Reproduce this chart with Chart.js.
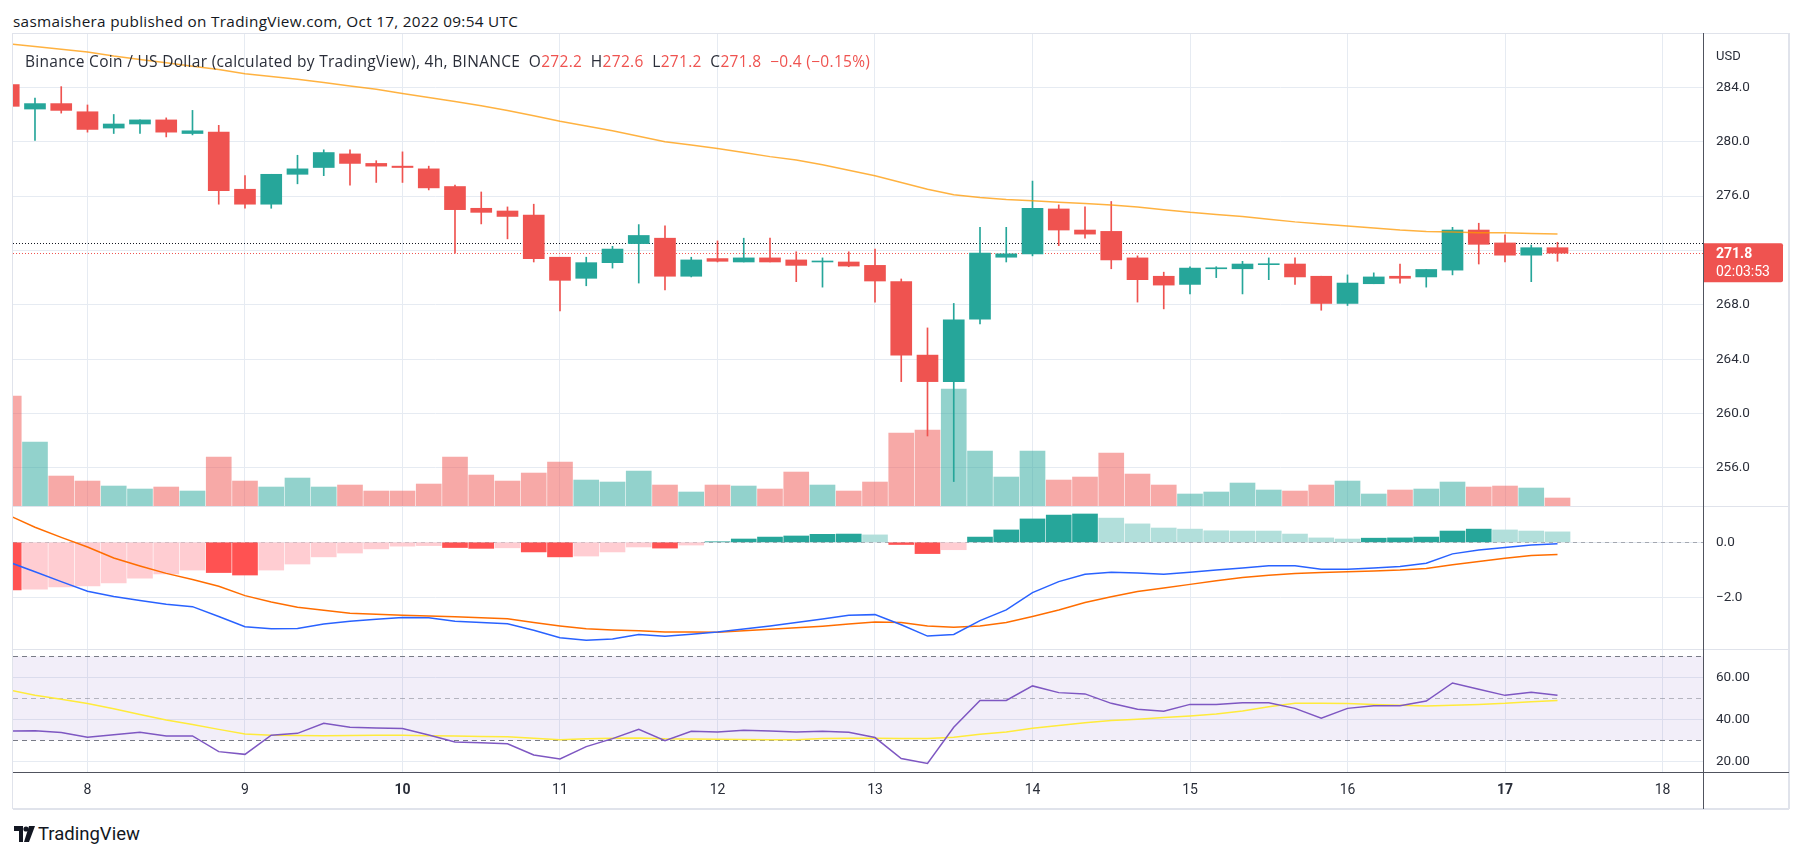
<!DOCTYPE html>
<html>
<head>
<meta charset="utf-8">
<script src="https://cdn.jsdelivr.net/npm/chart.js@4.4.0/dist/chart.umd.min.js"></script>
<style>
  body { margin: 0; background: #fff; }
  #wrap { position: relative; width: 1802px; height: 857px; overflow: hidden; font-family: "Open Sans", Roboto, sans-serif; color: #131722; }
  canvas { position: absolute; }
  .line { position: absolute; z-index: 5; }
  .txt { position: absolute; white-space: pre; z-index: 6; line-height: 20px; }
  .red { color: #ef5350; }
</style>
</head>
<body>
<div id="wrap">
  <div class="txt" style="left:13px;top:11px;font-size:15.3px;letter-spacing:0.3px;">sasmaishera published on TradingView.com, Oct 17, 2022 09:54 UTC</div>

  <canvas id="price" width="1775" height="472" style="left:13px;top:34px"></canvas>
  <canvas id="macd" width="1775" height="142" style="left:13px;top:507px"></canvas>
  <canvas id="rsi" width="1775" height="158" style="left:13px;top:650px"></canvas>

  <div class="txt" style="left:25px;top:51px;font-size:15.5px;letter-spacing:0.3px;color:#2a2e39;">Binance Coin / US Dollar (calculated by TradingView), 4h, BINANCE  O<span class="red">272.2</span>  H<span class="red">272.6</span>  L<span class="red">271.2</span>  C<span class="red">271.8</span>  <span class="red">−0.4 (−0.15%)</span></div>
  <div class="txt" style="left:1716px;top:46px;font-size:13px;color:#2a2e39;font-family:Roboto,sans-serif;">USD</div>

  <!-- frame -->
  <div class="line" style="left:13px;top:33px;width:1776px;height:1px;background:#e0e3eb"></div>
  <div class="line" style="left:13px;top:808px;width:1776px;height:2px;background:#e0e3eb"></div>
  <div class="line" style="left:12px;top:33px;width:1px;height:776px;background:#e0e3eb"></div>
  <div class="line" style="left:1788px;top:33px;width:2px;height:776px;background:#e0e3eb"></div>
  <div class="line" style="left:13px;top:506px;width:1776px;height:1px;background:#e0e3eb"></div>
  <div class="line" style="left:13px;top:649px;width:1776px;height:1px;background:#e0e3eb"></div>
  <div class="line" style="left:1703px;top:33px;width:1px;height:776px;background:#50535e"></div>
  <div class="line" style="left:13px;top:772px;width:1776px;height:1px;background:#50535e"></div>

  <div class="txt" style="left:14px;top:823px;line-height:22px;"><svg width="22" height="16" viewBox="0 0 22 16" style="vertical-align:-2px"><path d="M0 0h9v16h-4v-11h-5z" fill="#131722"/><circle cx="12" cy="3" r="2.6" fill="#131722"/><path d="M15 0h6l-6 16h-5z" fill="#131722"/></svg><span style="font-size:18.5px;margin-left:2px;font-family:Roboto,sans-serif;">TradingView</span></div>
</div>

<script>
// 4h candles, first one Oct 7 12:00 UTC (hours counted from Oct 7 00:00)
const firstHour = 12;
const opens  = [284.2, 282.4, 282.8, 282.2, 281.0, 281.3, 281.6, 280.6, 280.7, 276.5,
                275.4, 277.6, 278.1, 279.1, 278.4, 278.2, 278.0, 276.7, 275.1, 274.9,
                274.6, 271.5, 269.95, 271.1, 272.5, 272.9, 270.1, 271.4, 271.15, 271.45,
                271.3, 271.15, 271.15, 270.9, 269.7, 264.3, 262.35, 266.95, 271.5, 271.75,
                275.05, 273.5, 273.4, 271.45, 270.1, 269.5, 270.65, 270.65, 270.95, 271.0,
                270.1, 268.1, 269.55, 270.1, 270.05, 270.55, 273.5, 272.55, 271.65, 272.2];
const highs  = [284.6, 283.2, 284.05, 282.7, 282.0, 281.6, 281.75, 282.3, 281.2, 277.5,
                277.6, 279.0, 279.4, 279.4, 278.6, 279.25, 278.2, 276.8, 276.3, 275.2,
                275.4, 271.5, 271.5, 272.3, 273.9, 273.8, 271.5, 272.7, 272.9, 272.9,
                271.9, 271.45, 271.9, 272.1, 269.9, 266.3, 268.1, 273.7, 273.7, 277.1,
                275.35, 275.2, 275.6, 271.6, 270.4, 270.8, 270.8, 271.2, 271.45, 271.45,
                270.1, 270.2, 270.35, 271.0, 270.6, 273.7, 274.0, 273.15, 272.4, 272.6];
const lows   = [282.4, 280.1, 282.1, 280.7, 280.6, 280.6, 280.35, 280.5, 275.4, 275.1,
                275.1, 276.9, 277.5, 276.8, 277.0, 277.0, 276.45, 271.8, 273.95, 272.85,
                271.15, 267.55, 269.4, 270.7, 269.6, 269.1, 270.05, 271.15, 271.15, 271.15,
                269.7, 269.3, 270.8, 268.2, 262.35, 258.35, 255.0, 266.6, 271.15, 271.6,
                272.35, 272.9, 270.65, 268.2, 267.7, 268.8, 270.0, 268.8, 269.85, 269.5,
                267.6, 267.95, 269.55, 269.6, 269.3, 270.2, 271.0, 271.15, 269.7, 271.2];
const closes = [282.6, 282.8, 282.3, 280.9, 281.3, 281.6, 280.7, 280.8, 276.4, 275.4,
                277.6, 278.0, 279.2, 278.4, 278.2, 278.1, 276.6, 275.0, 274.8, 274.5,
                271.4, 269.8, 271.1, 272.1, 273.1, 270.1, 271.3, 271.2, 271.45, 271.15,
                270.9, 271.2, 270.85, 269.75, 264.3, 262.35, 266.9, 271.8, 271.75, 275.1,
                273.5, 273.2, 271.3, 269.85, 269.45, 270.7, 270.7, 271.0, 271.0, 270.05,
                268.1, 269.6, 270.05, 269.95, 270.6, 273.5, 272.45, 271.65, 272.2, 271.8];
// volume, K BNB
const volumes = [110, 64, 30, 25, 20, 17, 19, 15, 49, 25,
                 19, 28, 19, 21, 15, 15, 22, 49, 31, 25,
                 33, 44, 26, 24, 35, 21, 14, 21, 20, 17,
                 34, 21, 15, 24, 73, 76, 117, 55, 29, 55,
                 26, 29, 53, 32, 21, 12, 14, 23, 16, 15,
                 21, 25, 12, 16, 17, 24, 19, 20, 18, 8];
const priceMA = [287.2, 287.0, 286.8, 286.6, 286.3, 286.05, 285.8, 285.55, 285.3, 285.0,
                 284.8, 284.6, 284.35, 284.1, 283.85, 283.55, 283.25, 282.95, 282.65, 282.3,
                 281.9, 281.5, 281.15, 280.8, 280.4, 280.0, 279.75, 279.5, 279.2, 278.9,
                 278.65, 278.3, 277.9, 277.5, 277.0, 276.5, 276.1, 275.9, 275.75, 275.65,
                 275.55, 275.45, 275.35, 275.2, 275.0, 274.8, 274.65, 274.5, 274.3, 274.1,
                 273.95, 273.8, 273.65, 273.5, 273.4, 273.35, 273.3, 273.3, 273.25, 273.2];
const macdLine = [-0.72, -1.07, -1.43, -1.78, -1.97, -2.12, -2.25, -2.34, -2.70, -3.07,
                  -3.14, -3.13, -2.97, -2.87, -2.80, -2.73, -2.74, -2.87, -2.92, -2.96,
                  -3.20, -3.47, -3.56, -3.52, -3.35, -3.42, -3.34, -3.26, -3.15, -3.04,
                  -2.92, -2.79, -2.65, -2.63, -3.00, -3.41, -3.35, -2.85, -2.46, -1.83,
                  -1.43, -1.16, -1.09, -1.12, -1.16, -1.09, -1.01, -0.93, -0.85, -0.85,
                  -0.98, -0.98, -0.93, -0.88, -0.76, -0.42, -0.28, -0.19, -0.10, -0.05];
const signalLine = [0.98, 0.55, 0.18, -0.17, -0.57, -0.86, -1.13, -1.35, -1.60, -1.94,
                    -2.17, -2.36, -2.47, -2.58, -2.62, -2.65, -2.68, -2.71, -2.74, -2.78,
                    -2.92, -3.04, -3.14, -3.19, -3.22, -3.26, -3.26, -3.27, -3.22, -3.16,
                    -3.11, -3.05, -2.97, -2.90, -2.92, -3.04, -3.09, -3.04, -2.92, -2.70,
                    -2.46, -2.19, -1.98, -1.79, -1.66, -1.53, -1.40, -1.28, -1.20, -1.13,
                    -1.10, -1.07, -1.04, -1.01, -0.95, -0.82, -0.70, -0.58, -0.48, -0.44];
const macdHist = [-1.73, -1.70, -1.62, -1.59, -1.48, -1.30, -1.15, -1.01, -1.10, -1.19,
                  -1.01, -0.79, -0.53, -0.39, -0.24, -0.14, -0.12, -0.19, -0.22, -0.20,
                  -0.35, -0.53, -0.50, -0.35, -0.17, -0.21, -0.10, 0.02, 0.12, 0.19,
                  0.23, 0.29, 0.30, 0.27, -0.08, -0.41, -0.27, 0.19, 0.45, 0.85,
                  0.99, 1.03, 0.88, 0.67, 0.52, 0.48, 0.42, 0.41, 0.41, 0.30,
                  0.16, 0.12, 0.15, 0.16, 0.19, 0.41, 0.48, 0.45, 0.41, 0.38];
const rsi = [34.4, 34.6, 33.7, 31.4, 32.6, 33.8, 32.1, 32.1, 24.6, 23.3,
             32.4, 33.3, 38.1, 36.2, 35.9, 35.6, 32.5, 29.2, 28.8, 28.3,
             23.0, 21.1, 27.0, 30.8, 35.2, 29.8, 34.3, 34.0, 34.8, 34.4,
             34.0, 34.3, 33.8, 31.3, 21.3, 19.0, 36.2, 49.0, 49.0, 55.9,
             52.7, 52.1, 47.6, 44.8, 43.8, 47.1, 47.1, 47.9, 47.9, 45.2,
             40.5, 45.2, 46.5, 46.5, 48.7, 57.3, 54.3, 51.4, 52.9, 51.4];
const rsiMA = [54.0, 51.5, 49.5, 47.5, 45.0, 42.3, 39.7, 37.5, 35.2, 33.0,
               32.4, 32.3, 32.2, 32.3, 32.4, 32.4, 32.2, 32.0, 31.8, 31.7,
               31.0, 30.2, 30.7, 31.0, 31.1, 30.7, 30.6, 30.5, 30.4, 30.3,
               30.2, 30.8, 31.0, 31.0, 30.9, 30.8, 31.4, 32.9, 34.0, 35.7,
               37.0, 38.4, 39.4, 40.0, 40.8, 41.6, 42.5, 44.0, 46.0, 47.6,
               47.6, 47.5, 47.1, 46.7, 46.3, 46.7, 47.1, 47.6, 48.4, 48.9];

const dayLabels = ['8', '9', '10', '11', '12', '13', '14', '15', '16', '17', '18'];
const boldDays = ['10', '17'];
const priceTicks = [256, 260, 264, 268, 272, 276, 280, 284];
const macdTicks = [0, -2];
const rsiTicks = [20, 40, 60];
const rsiLevels = [70, 50, 30];
const prevClose = 272.55;
const lastPrice = 271.8;
const countdown = '02:03:53';

const UP = '#26a69a', DOWN = '#ef5350';
const gridColor = '#e6ebf2';
const fontFamily = 'Roboto, "Liberation Sans", sans-serif';
const textColor = '#2a2e39';

// visible window, hours from Oct 7 00:00
const xMin = 12.65, xMax = 270.17;

const hours = opens.map((_, i) => firstHour + i * 4);
const dayHours = dayLabels.map(d => (Number(d) - 7) * 24);
const isUp = opens.map((o, i) => closes[i] >= o);

function xAxis(showLabels) {
  return {
    type: 'linear', min: xMin, max: xMax, offset: false,
    grid: { color: gridColor, drawTicks: false, offset: false },
    border: { display: false },
    afterBuildTicks: s => { s.ticks = dayHours.map(v => ({ value: v })); },
    afterFit: s => {
      s.height = showLabels ? 36 : 0;
      s.paddingLeft = 0; s.paddingRight = 0;
    },
    ticks: {
      display: showLabels, padding: 10, maxRotation: 0, autoSkip: false, color: textColor,
      font: c => ({ family: fontFamily, size: 14, weight: boldDays.includes(dayLabels[c.index]) ? 'bold' : 'normal' }),
      callback: (v, i) => dayLabels[i]
    }
  };
}

function yAxis(min, max, ticks, fmt) {
  return {
    position: 'right', min: min, max: max,
    grid: { color: gridColor, drawTicks: false },
    border: { display: false },
    afterBuildTicks: s => { s.ticks = ticks.map(v => ({ value: v })); },
    afterFit: s => {
      s.width = 85;
      s.paddingTop = 0; s.paddingBottom = 0;
    },
    ticks: { padding: 13, color: textColor, font: { family: fontFamily, size: 13.5 }, callback: fmt }
  };
}

const common = {
  responsive: false, animation: false, devicePixelRatio: 1, events: [],
  layout: { padding: 0 },
  plugins: { legend: { display: false }, tooltip: { enabled: false } }
};

// dotted price lines and the last-price tag on the axis
const priceMarks = {
  id: 'priceMarks',
  beforeDatasetsDraw(chart) {
    const { ctx, chartArea: a, scales: { y } } = chart;
    ctx.save();
    ctx.lineWidth = 1;
    ctx.setLineDash([1, 2]);
    [[prevClose, '#131722'], [lastPrice, DOWN]].forEach(([v, c]) => {
      const py = Math.round(y.getPixelForValue(v)) + 0.5;
      ctx.strokeStyle = c;
      ctx.beginPath(); ctx.moveTo(a.left, py); ctx.lineTo(a.right, py); ctx.stroke();
    });
    ctx.restore();
  },
  afterDraw(chart) {
    const { ctx, chartArea: a, scales: { y } } = chart;
    const py = y.getPixelForValue(lastPrice);
    ctx.save();
    ctx.fillStyle = DOWN;
    ctx.beginPath();
    ctx.roundRect(a.right, py - 10, 80, 39, [0, 2, 2, 0]);
    ctx.fill();
    ctx.fillStyle = '#fff';
    ctx.textBaseline = 'middle';
    ctx.font = 'bold 14px ' + fontFamily;
    ctx.fillText(lastPrice.toFixed(1), a.right + 13, py + 1);
    ctx.font = '14px ' + fontFamily;
    ctx.fillText(countdown, a.right + 13, py + 19.5);
    ctx.restore();
  }
};

new Chart(document.getElementById('price'), {
  data: {
    datasets: [
      {
        type: 'line', data: hours.map((h, i) => ({ x: h, y: priceMA[i] })),
        borderColor: 'rgba(255,152,0,0.75)', borderWidth: 1.5, pointRadius: 0, order: 0
      },
      {
        type: 'bar', data: hours.map((h, i) => ({ x: h, y: [opens[i], closes[i]] })),
        backgroundColor: isUp.map(u => u ? UP : DOWN), barThickness: 21, minBarLength: 1,
        grouped: false, order: 1
      },
      {
        type: 'bar', data: hours.map((h, i) => ({ x: h, y: [lows[i], highs[i]] })),
        backgroundColor: isUp.map(u => u ? UP : DOWN), barThickness: 1,
        grouped: false, order: 2
      },
      {
        type: 'bar', yAxisID: 'vol', data: hours.map((h, i) => ({ x: h, y: volumes[i] })),
        backgroundColor: isUp.map(u => u ? 'rgba(38,166,154,0.5)' : 'rgba(239,83,80,0.5)'),
        barThickness: 25, grouped: false, order: 10
      }
    ]
  },
  options: Object.assign({}, common, {
    scales: {
      x: xAxis(false),
      y: yAxis(253.2, 287.92, priceTicks, v => v.toFixed(1)),
      vol: { display: false, min: 0, max: Math.max(...volumes) * 4.04 }
    }
  }),
  plugins: [priceMarks]
});

// MACD
const zeroLine = {
  id: 'zeroLine',
  beforeDatasetsDraw(chart) {
    const { ctx, chartArea: a, scales: { y } } = chart;
    const py = Math.round(y.getPixelForValue(0)) + 0.5;
    ctx.save();
    ctx.strokeStyle = 'rgba(120,123,134,0.6)';
    ctx.setLineDash([4, 4]);
    ctx.beginPath(); ctx.moveTo(a.left, py); ctx.lineTo(a.right, py); ctx.stroke();
    ctx.restore();
  }
};

const histColors = macdHist.map((v, i) => {
  const prev = i > 0 ? macdHist[i - 1] : (v < 0 ? Infinity : -Infinity);
  if (v >= 0) return v > prev ? '#26a69a' : '#b2dfdb';
  return v < prev ? '#ff5252' : '#ffcdd2';
});

new Chart(document.getElementById('macd'), {
  data: {
    datasets: [
      {
        type: 'line', data: hours.map((h, i) => ({ x: h, y: macdLine[i] })),
        borderColor: '#2962ff', borderWidth: 1.5, pointRadius: 0, order: 0
      },
      {
        type: 'line', data: hours.map((h, i) => ({ x: h, y: signalLine[i] })),
        borderColor: '#ff6d00', borderWidth: 1.5, pointRadius: 0, order: 1
      },
      {
        type: 'bar', data: hours.map((h, i) => ({ x: h, y: macdHist[i] })),
        backgroundColor: histColors, barThickness: 25, grouped: false, order: 5
      }
    ]
  },
  options: Object.assign({}, common, {
    scales: {
      x: xAxis(false),
      y: yAxis(-3.88, 1.284, macdTicks, v => (v < 0 ? '−' : '') + Math.abs(v).toFixed(1))
    }
  }),
  plugins: [zeroLine]
});

// RSI
const rsiBand = {
  id: 'rsiBand',
  beforeDatasetsDraw(chart) {
    const { ctx, chartArea: a, scales: { y } } = chart;
    const top = y.getPixelForValue(rsiLevels[0]);
    const bot = y.getPixelForValue(rsiLevels[2]);
    ctx.save();
    ctx.fillStyle = 'rgba(126,87,194,0.1)';
    ctx.fillRect(a.left, top, a.right - a.left, bot - top);
    ctx.setLineDash([5, 4]);
    rsiLevels.forEach((lv, k) => {
      const py = Math.round(y.getPixelForValue(lv)) + 0.5;
      ctx.strokeStyle = k === 1 ? 'rgba(120,123,134,0.5)' : '#787b86';
      ctx.beginPath(); ctx.moveTo(a.left, py); ctx.lineTo(a.right, py); ctx.stroke();
    });
    ctx.restore();
  }
};

new Chart(document.getElementById('rsi'), {
  data: {
    datasets: [
      {
        type: 'line', data: hours.map((h, i) => ({ x: h, y: rsi[i] })),
        borderColor: '#7e57c2', borderWidth: 1.5, pointRadius: 0, order: 0
      },
      {
        type: 'line', data: hours.map((h, i) => ({ x: h, y: rsiMA[i] })),
        borderColor: '#ffeb3b', borderWidth: 1.5, pointRadius: 0, order: 1
      }
    ]
  },
  options: Object.assign({}, common, {
    scales: {
      x: xAxis(true),
      y: yAxis(14.9, 73.0, rsiTicks, v => v.toFixed(2))
    }
  }),
  plugins: [rsiBand]
});
</script>
</body>
</html>
